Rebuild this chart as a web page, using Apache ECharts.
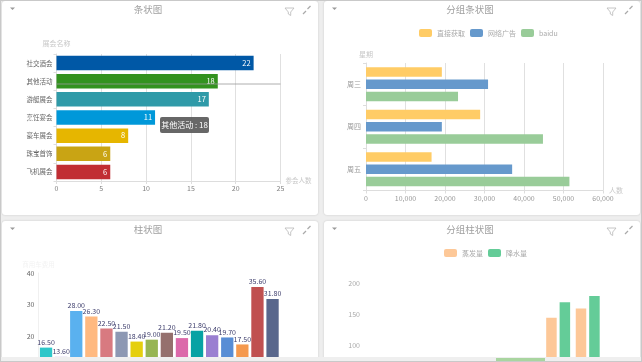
<!DOCTYPE html>
<html><head><meta charset="utf-8">
<script src="https://cdn.jsdelivr.net/npm/echarts@6/dist/echarts.min.js"></script>
<style>
html,body{margin:0;padding:0;width:642px;height:362px;overflow:hidden;background:#eeeeee}
.p{position:absolute;width:316px;height:214px;background:#fff;border-radius:3px;box-shadow:0 0 2px #c4c4c4}
#frame{position:absolute;left:0;top:0;width:640px;height:360px;border:1px solid #c9c9c9;pointer-events:none;z-index:5}
#strip{position:absolute;left:1px;top:357px;width:640px;height:4px;background:#efefef;z-index:4}
#thumb{position:absolute;left:496px;top:358px;width:49px;height:3px;background:#a9d5a0;z-index:4}
</style></head><body>
<div class="p" id="c1" style="left:2px;top:1px"></div>
<div class="p" id="c2" style="left:324px;top:1px"></div>
<div class="p" id="c3" style="left:2px;top:221px"></div>
<div class="p" id="c4" style="left:324px;top:221px"></div>
<div id="strip"></div><div id="thumb"></div><div id="frame"></div>
<script>
// ---- data ----
var showNames = ['社交酒会','其他活动','游艇展会','烹饪宴会','豪车展会','珠宝首饰','飞机展会'];
var showValues = [22,18,17,11,8,6,6];
var showColors = ['#0058a6','#33921f','#2f9aa8','#0098d9','#e6b600','#c9a414','#c12e34'];
var days = ['周三','周四','周五'];
var directValues = [19200,28900,16600];
var adValues = [30900,19200,37000];
var baiduValues = [23300,44800,51500];
var groupLegend = ['直接获取','网络广告','baidu'];
var costCategories = ['1','2','3','4','5','6','7','8','9','10','11','12','13','14','15','16'];
var costValues = [16.5,13.6,28,26.3,22.5,21.5,18.4,19,21.2,19.5,21.8,20.4,19.7,17.5,35.6,31.8];
var costColors = ['#2ec7c9','#b6a2de','#5ab1ef','#ffb980','#d87a80','#8d98b3','#e5cf0d','#97b552','#95706d','#dc69aa','#07a2a4','#9a7fd1','#588dd5','#f5994e','#c05050','#59678c'];
var months = ['1月','2月','3月','4月','5月','6月','7月','8月'];
var evaporation = [2,4.9,7,23.2,25.6,76.7,144,159];
var rainfall = [2.6,5.9,9,26.4,28.7,70.7,169,179];
var rainLegend = ['蒸发量','降水量'];
var titles = ['条状图','分组条状图','柱状图','分组柱状图'];
var hoverIndex = 1;

var FF = '"Noto Sans CJK SC","Noto Sans",sans-serif';
function decor(){
  return [
    {type:'polygon',silent:true,shape:{points:[[8,6.5],[13,6.5],[10.5,9]]},style:{fill:'#9a9a9a'}},
    {type:'polyline',silent:true,shape:{points:[[283,7],[292,7],[288.7,11],[288.7,14.5],[286.3,13],[286.3,11],[283,7]]},style:{fill:null,stroke:'#b8b8b8',lineWidth:0.8}},
    {type:'polyline',silent:true,shape:{points:[[301,13],[304,10]]},style:{stroke:'#aaa',lineWidth:1.2}},
    {type:'polyline',silent:true,shape:{points:[[305.5,8],[308.5,5]]},style:{stroke:'#aaa',lineWidth:1.2}}
  ];
}
function base(t,g,extra){
  return Object.assign({
    animation:false,
    textStyle:{fontFamily:FF},
    title:{text:t,left:141,top:-1,textAlign:'center',textStyle:{color:'#a0a0a0',fontSize:9.5,fontWeight:'normal',fontFamily:FF}},
    grid:g,
    graphic:decor()
  },extra);
}
var GRID = '#e0e0e0', LINE='#dddddd';
var nameStyle = {color:'#c8c8c8',fontSize:7,fontFamily:FF};

// 条状图
var c1 = echarts.init(document.getElementById('c1'));
var g1 = {left:54.5,top:53,width:224,height:127};
var o1 = base(titles[0],g1,{
  xAxis:{type:'value',min:0,max:25,interval:5,name:'参会人数',nameGap:5,nameTextStyle:{color:'#c8c8c8',fontSize:6.5,fontFamily:FF},
    axisLine:{show:true,lineStyle:{color:LINE}},axisTick:{show:true,length:3,lineStyle:{color:LINE}},
    axisLabel:{color:'#808080',fontSize:7,margin:4},splitLine:{show:true,lineStyle:{color:GRID}}},
  yAxis:{type:'category',data:showNames,inverse:true,name:'展会名称',nameLocation:'start',nameGap:7,nameTextStyle:nameStyle,
    axisLine:{show:true,lineStyle:{color:LINE}},axisTick:{show:true,length:3,lineStyle:{color:LINE}},
    axisLabel:{color:'#666',fontSize:6.5,margin:4}},
  series:[{type:'bar',barWidth:14.5,data:showValues.map(function(v,i){return {value:v,itemStyle:{color:showColors[i]}};}),
    label:{show:true,position:'insideRight',color:'#fff',fontSize:7.5,distance:3}}]
});
c1.setOption(o1);
var tipY = 116-1;
c1.setOption({graphic:decor().concat([
  {type:'line',silent:true,z:50,shape:{x1:54.5,y1:83,x2:278.5,y2:83},style:{stroke:'#999',lineWidth:0.8}},
  {type:'rect',silent:true,z:60,shape:{x:158,y:tipY+1,width:49,height:16,r:2},style:{fill:'rgba(90,90,90,0.92)'}},
  {type:'text',silent:true,z:61,x:182.5,y:tipY+9,style:{text:showNames[hoverIndex]+' : '+showValues[hoverIndex],fill:'#fff',fontSize:8,fontFamily:FF,align:'center',verticalAlign:'middle'}}
])});

// 分组条状图
var c2 = echarts.init(document.getElementById('c2'));
var barS = function(n,d,col){return {name:n,type:'bar',barWidth:9.5,barGap:'30%',data:d,itemStyle:{color:col}};};
c2.setOption(base(titles[1],{left:42,top:62,width:237,height:127.5},{
  legend:{data:groupLegend,left:90,top:23,itemWidth:13,itemHeight:8,itemGap:5,textStyle:{color:'#aaa',fontSize:7,fontFamily:FF},itemStyle:{borderWidth:0}},
  xAxis:{type:'value',min:0,max:60000,interval:10000,name:'人数',nameGap:6,nameTextStyle:nameStyle,
    axisLine:{show:true,lineStyle:{color:LINE}},axisTick:{show:true,length:3,lineStyle:{color:LINE}},
    axisLabel:{color:'#999',fontSize:7,margin:4},splitLine:{show:true,lineStyle:{color:GRID}}},
  yAxis:{type:'category',data:days,inverse:true,name:'星期',nameLocation:'start',nameGap:5,nameTextStyle:nameStyle,
    axisLine:{show:true,lineStyle:{color:LINE}},axisTick:{show:true,length:3,lineStyle:{color:LINE}},
    axisLabel:{color:'#999',fontSize:7,margin:5}},
  series:[barS(groupLegend[0],directValues,'#ffcc66'),barS(groupLegend[1],adValues,'#6699cc'),barS(groupLegend[2],baiduValues,'#99cc99')]
}));

// 柱状图
var c3 = echarts.init(document.getElementById('c3'));
c3.setOption(base(titles[2],{left:36.5,top:52,width:241.6,height:127},{
  xAxis:{type:'category',data:costCategories,axisLabel:{show:false},axisTick:{show:false},axisLine:{lineStyle:{color:'#eee'}}},
  yAxis:{type:'value',min:0,max:40,interval:10,name:'商用车费用',nameGap:5,nameTextStyle:{color:'#f2f2f2',fontSize:6.5,fontFamily:FF},
    axisLine:{show:true,lineStyle:{color:'#f0f0f0'}},axisTick:{show:false},splitLine:{show:false},
    axisLabel:{color:'#666',fontSize:7,margin:4}},
  series:[{type:'bar',barWidth:12.3,data:costValues.map(function(v,i){return {value:v,itemStyle:{color:costColors[i]}};}),
    label:{show:true,position:'top',color:'#40406e',fontSize:7,distance:2,formatter:function(p){return p.value.toFixed(2);}}}]
}));

// 分组柱状图
var c4 = echarts.init(document.getElementById('c4'));
var colS = function(n,d,col){return {name:n,type:'bar',barWidth:10.5,barGap:'28%',data:d,itemStyle:{color:col}};};
c4.setOption(base(titles[3],{left:42,top:62,width:236.5,height:124},{
  legend:{data:rainLegend,left:115,top:23,itemWidth:13,itemHeight:8,itemGap:5,textStyle:{color:'#aaa',fontSize:7,fontFamily:FF}},
  xAxis:{type:'category',data:months,axisLabel:{show:false},axisTick:{show:false},axisLine:{show:false}},
  yAxis:{type:'value',min:0,max:200,interval:50,axisLine:{show:false},axisTick:{show:false},splitLine:{show:false},
    axisLabel:{color:'#aaa',fontSize:7,margin:6}},
  series:[colS(rainLegend[0],evaporation,'#fdc898'),colS(rainLegend[1],rainfall,'#64cc98')]
}));
</script></body></html>
